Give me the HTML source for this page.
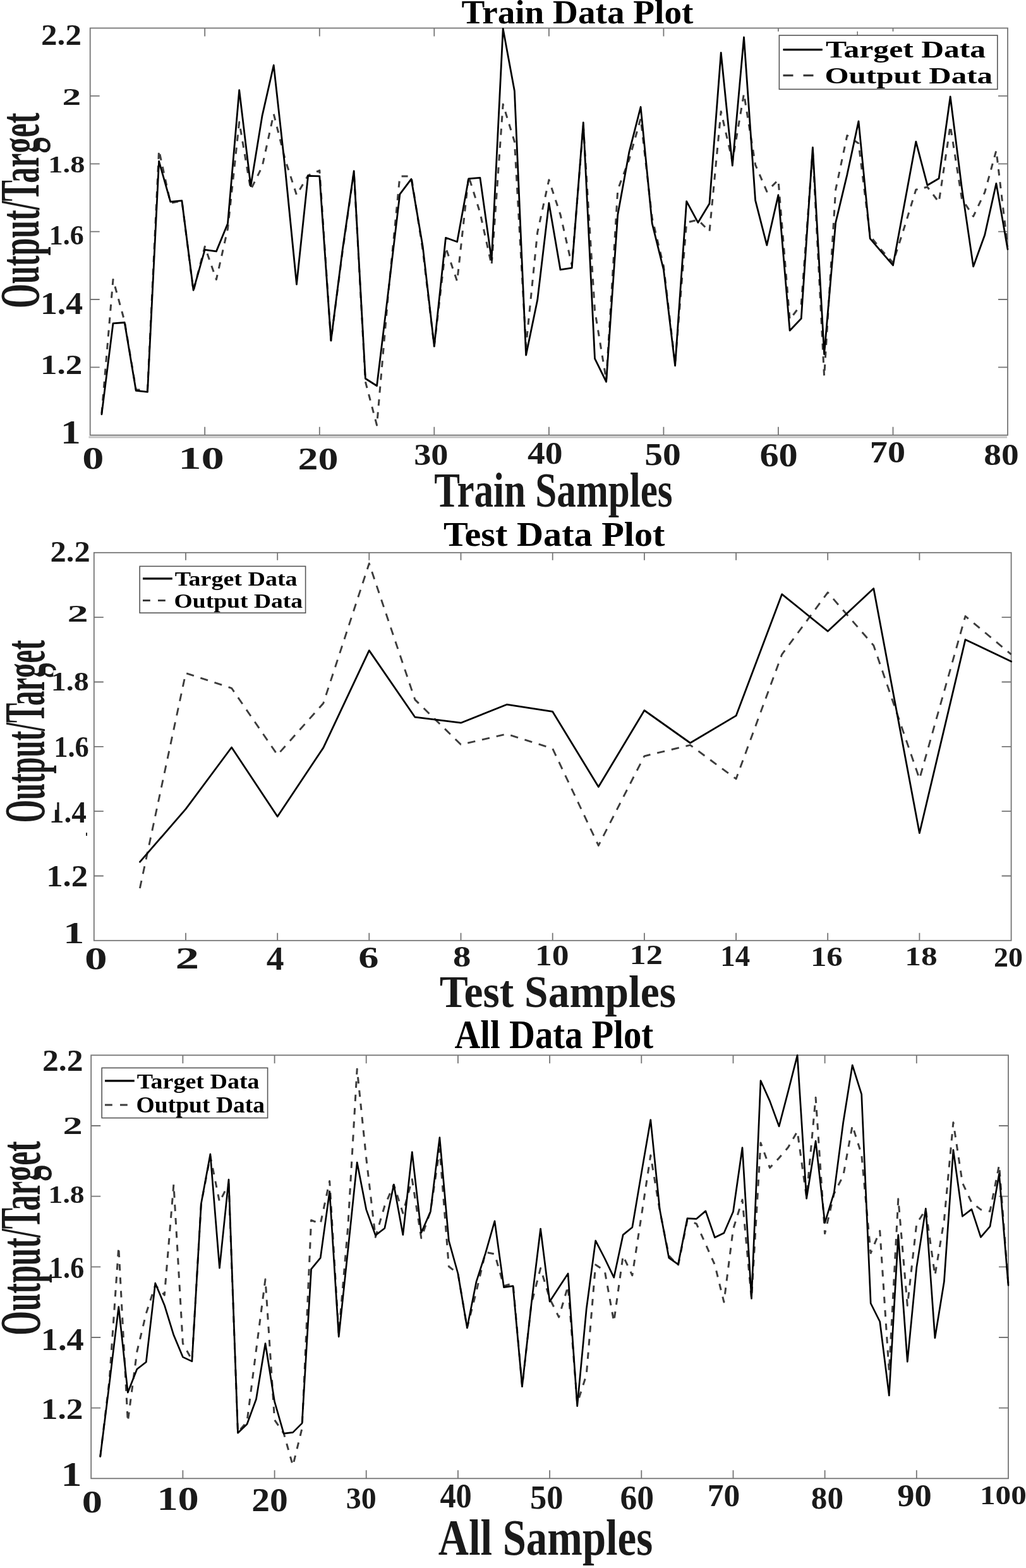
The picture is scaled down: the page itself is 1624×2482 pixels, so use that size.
<!DOCTYPE html><html><head><meta charset="utf-8"><title>Data Plots</title><style>html,body{margin:0;padding:0;background:#fff}body{width:1624px;height:2482px;overflow:hidden}</style></head><body><svg width="1624" height="2482" viewBox="0 0 1624 2482" style="display:block">
<rect width="1624" height="2482" fill="#fff"/>
<path d="M140.5 692H1594" stroke="#c4c4c4" stroke-width="2.8"/>
<rect x="142.7" y="44.5" width="1452.30" height="644.30" fill="none" stroke="#757575" stroke-width="1.8"/><path d="M324.2 44.5v13M324.2 688.8v-13M505.8 44.5v13M505.8 688.8v-13M687.3 44.5v13M687.3 688.8v-13M868.9 44.5v13M868.9 688.8v-13M1050.4 44.5v13M1050.4 688.8v-13M1231.9 44.5v13M1231.9 688.8v-13M1413.5 44.5v13M1413.5 688.8v-13M142.7 581.4h15M1595 581.4h-15M142.7 474.0h15M1595 474.0h-15M142.7 366.7h15M1595 366.7h-15M142.7 259.3h15M1595 259.3h-15M142.7 151.9h15M1595 151.9h-15" stroke="#757575" stroke-width="1.8" fill="none"/>
<polyline points="160.9,654.5 179.0,442.4 197.2,508.6 215.3,617.0 233.5,617.0 251.6,237.8 269.8,321.4 287.9,317.7 306.1,460.7 324.2,390.3 342.4,442.4 360.5,362.2 378.7,193.3 396.9,300.3 415.0,263.7 433.2,180.4 451.3,252.4 469.5,308.7 487.6,277.7 505.8,269.8 523.9,539.0 542.1,398.8 560.2,272.1 578.4,604.3 596.5,673.0 614.7,463.5 632.9,279.1 651.0,279.1 669.2,396.0 687.3,548.0 705.5,391.7 723.6,445.2 741.8,279.1 759.9,336.8 778.1,419.9 796.2,165.1 814.4,224.2 832.6,548.0 850.7,367.8 868.9,284.8 887.0,339.7 905.2,419.9 923.3,198.9 941.5,491.7 959.6,601.5 977.8,300.3 995.9,252.4 1014.1,187.6 1032.2,345.3 1050.4,421.3 1068.6,576.1 1086.7,352.3 1104.9,348.1 1123.0,366.4 1141.2,176.4 1159.3,255.2 1177.5,148.4 1195.6,260.8 1213.8,303.1 1231.9,284.8 1250.1,505.8 1268.2,481.8 1286.4,238.3 1304.6,595.8 1322.7,300.3 1340.9,214.4 1359.0,227.1 1377.2,373.4 1395.3,396.0 1413.5,415.7 1431.6,359.4 1449.8,300.3 1467.9,296.0 1486.1,320.0 1504.2,198.9 1522.4,314.3 1540.6,342.5 1558.7,304.5 1576.9,238.3 1595.0,390.3" fill="none" stroke="#3c3c3c" stroke-width="3.0" stroke-dasharray="10 10.4" stroke-linejoin="round"/><polyline points="160.9,655.9 179.0,511.9 197.2,510.5 215.3,618.4 233.5,620.3 251.6,255.2 269.8,319.4 287.9,317.7 306.1,459.3 324.2,395.4 342.4,397.9 360.5,353.7 378.7,142.6 396.9,294.6 415.0,183.4 433.2,103.2 451.3,266.5 469.5,450.0 487.6,278.3 505.8,278.9 523.9,539.0 542.1,396.0 560.2,270.7 578.4,599.2 596.5,610.8 614.7,460.7 632.9,307.3 651.0,283.4 669.2,390.3 687.3,548.0 705.5,376.3 723.6,382.7 741.8,282.8 759.9,281.4 778.1,411.4 796.2,45.5 814.4,144.0 832.6,562.1 850.7,474.8 868.9,321.4 887.0,426.9 905.2,424.1 923.3,193.8 941.5,567.7 959.6,604.3 977.8,339.7 995.9,240.6 1014.1,169.3 1032.2,353.7 1050.4,426.9 1068.6,578.9 1086.7,318.6 1104.9,352.3 1123.0,322.2 1141.2,83.5 1159.3,262.2 1177.5,59.0 1195.6,317.1 1213.8,388.1 1231.9,308.7 1250.1,523.2 1268.2,504.3 1286.4,233.3 1304.6,560.7 1322.7,352.3 1340.9,276.3 1359.0,191.9 1377.2,377.7 1395.3,398.8 1413.5,419.9 1431.6,322.8 1449.8,224.2 1467.9,293.2 1486.1,282.5 1504.2,153.0 1522.4,297.4 1540.6,421.9 1558.7,372.0 1576.9,290.4 1595.0,394.6" fill="none" stroke="#000" stroke-width="2.8" stroke-linejoin="round" stroke-linecap="round"/>
<rect x="148.8" y="874.8" width="1451.80" height="614.00" fill="none" stroke="#757575" stroke-width="1.8"/><path d="M294.0 874.8v12M294.0 1488.8v-12M439.2 874.8v12M439.2 1488.8v-12M584.3 874.8v12M584.3 1488.8v-12M729.5 874.8v12M729.5 1488.8v-12M874.7 874.8v12M874.7 1488.8v-12M1019.9 874.8v12M1019.9 1488.8v-12M1165.1 874.8v12M1165.1 1488.8v-12M1310.2 874.8v12M1310.2 1488.8v-12M1455.4 874.8v12M1455.4 1488.8v-12M148.8 1386.5h15M1600.6 1386.5h-15M148.8 1284.1h15M1600.6 1284.1h-15M148.8 1181.8h15M1600.6 1181.8h-15M148.8 1079.5h15M1600.6 1079.5h-15M148.8 977.1h15M1600.6 977.1h-15" stroke="#757575" stroke-width="1.8" fill="none"/>
<polyline points="221.4,1406.0 294.0,1065.4 366.6,1089.3 439.2,1194.9 511.8,1113.2 584.3,892.0 656.9,1107.6 729.5,1178.5 802.1,1161.9 874.7,1185.0 947.3,1338.4 1019.9,1196.8 1092.5,1179.4 1165.1,1232.9 1237.7,1035.8 1310.2,937.8 1382.8,1021.7 1455.4,1232.9 1528.0,975.3 1600.6,1035.8" fill="none" stroke="#3c3c3c" stroke-width="2.9" stroke-dasharray="12.3 11" stroke-linejoin="round"/><polyline points="221.4,1364.3 294.0,1280.7 366.6,1183.0 439.2,1292.5 511.8,1183.6 584.3,1029.6 656.9,1135.2 729.5,1144.2 802.1,1115.2 874.7,1126.4 947.3,1245.5 1019.9,1124.5 1092.5,1176.0 1165.1,1132.9 1237.7,940.6 1310.2,999.2 1382.8,931.6 1455.4,1318.7 1528.0,1012.4 1600.6,1047.1" fill="none" stroke="#000" stroke-width="2.8" stroke-linejoin="round" stroke-linecap="round"/>
<rect x="144.2" y="1670.3" width="1451.80" height="670.00" fill="none" stroke="#757575" stroke-width="1.8"/><path d="M289.4 1670.3v13M289.4 2340.3v-13M434.6 1670.3v13M434.6 2340.3v-13M579.7 1670.3v13M579.7 2340.3v-13M724.9 1670.3v13M724.9 2340.3v-13M870.1 1670.3v13M870.1 2340.3v-13M1015.3 1670.3v13M1015.3 2340.3v-13M1160.5 1670.3v13M1160.5 2340.3v-13M1305.6 1670.3v13M1305.6 2340.3v-13M1450.8 1670.3v13M1450.8 2340.3v-13M144.2 2228.6h15M1596 2228.6h-15M144.2 2117.0h15M1596 2117.0h-15M144.2 2005.3h15M1596 2005.3h-15M144.2 1893.6h15M1596 1893.6h-15M144.2 1782.0h15M1596 1782.0h-15" stroke="#757575" stroke-width="1.8" fill="none"/>
<polyline points="158.7,2305.6 173.2,2184.4 187.8,1973.8 202.3,2250.3 216.8,2139.7 231.3,2079.1 245.8,2034.3 260.3,2050.1 274.9,1875.0 289.4,2126.5 303.9,2152.8 318.4,1905.3 332.9,1830.2 347.5,1902.7 362.0,1873.7 376.5,2267.4 391.0,2250.3 405.5,2137.0 420.0,2025.1 434.6,2247.6 449.1,2268.7 463.6,2320.0 478.1,2260.8 492.6,1931.5 507.2,1937.1 521.7,1869.6 536.2,2111.7 550.7,1942.8 565.2,1692.2 579.7,1833.0 594.3,1958.3 608.8,1909.0 623.3,1875.2 637.8,1920.3 652.3,1866.8 666.8,1959.7 681.4,1917.4 695.9,1818.9 710.4,2004.7 724.9,2016.0 739.4,2101.8 754.0,2044.1 768.5,1982.2 783.0,1985.0 797.5,2035.7 812.0,2031.4 826.5,2194.7 841.1,2063.8 855.6,2007.5 870.1,2055.4 884.6,2084.9 899.1,2035.7 913.7,2221.5 928.2,2176.4 942.7,2001.9 957.2,2011.7 971.7,2092.0 986.2,1987.8 1000.8,2018.8 1015.3,1924.5 1029.8,1828.8 1044.3,1916.0 1058.8,1987.8 1073.4,2003.3 1087.9,1931.5 1102.4,1937.1 1116.9,1969.5 1131.4,2001.9 1145.9,2061.0 1160.5,1945.6 1175.0,1899.1 1189.5,2055.4 1204.0,1809.1 1218.5,1848.5 1233.1,1833.0 1247.6,1816.1 1262.1,1790.8 1276.6,1894.9 1291.1,1737.3 1305.6,1952.6 1320.2,1889.3 1334.7,1861.1 1349.2,1781.7 1363.7,1827.4 1378.2,1983.6 1392.7,1948.4 1407.3,2170.8 1421.8,1897.7 1436.3,2066.6 1450.8,1937.1 1465.3,1914.6 1479.9,2018.8 1494.4,1931.5 1508.9,1776.7 1523.4,1872.4 1537.9,1903.4 1552.4,1914.6 1567.0,1917.4 1581.5,1844.2 1596.0,2032.9" fill="none" stroke="#3c3c3c" stroke-width="3.0" stroke-dasharray="10.3 10.9" stroke-linejoin="round"/><polyline points="158.7,2305.6 173.2,2189.7 187.8,2068.6 202.3,2204.2 216.8,2167.3 231.3,2156.0 245.8,2031.2 260.3,2065.9 274.9,2113.3 289.4,2148.1 303.9,2154.9 318.4,1905.3 332.9,1826.8 347.5,2007.2 362.0,1867.1 376.5,2268.2 391.0,2254.2 405.5,2214.7 420.0,2126.5 434.6,2218.7 449.1,2269.2 463.6,2267.4 478.1,2252.9 492.6,2008.9 507.2,1991.2 521.7,1885.9 536.2,2115.9 550.7,1979.4 565.2,1840.0 579.7,1914.6 594.3,1955.4 608.8,1944.2 623.3,1875.2 637.8,1954.6 652.3,1823.7 666.8,1951.2 681.4,1918.0 695.9,1800.6 710.4,1963.9 724.9,2016.0 739.4,2101.8 754.0,2028.6 768.5,1983.6 783.0,1932.9 797.5,2037.6 812.0,2035.7 826.5,2194.7 841.1,2063.8 855.6,1945.0 870.1,2060.2 884.6,2037.9 899.1,2016.0 913.7,2225.7 928.2,2072.3 942.7,1963.9 957.2,1992.0 971.7,2022.2 986.2,1954.6 1000.8,1942.8 1015.3,1856.9 1029.8,1772.5 1044.3,1914.6 1058.8,1991.2 1073.4,2001.3 1087.9,1928.7 1102.4,1929.3 1116.9,1916.9 1131.4,1958.8 1145.9,1951.8 1160.5,1918.0 1175.0,1816.7 1189.5,2055.4 1204.0,1710.5 1218.5,1742.9 1233.1,1782.9 1247.6,1727.4 1262.1,1670.3 1276.6,1897.2 1291.1,1806.2 1305.6,1935.7 1320.2,1887.9 1334.7,1776.7 1349.2,1686.0 1363.7,1732.2 1378.2,2063.0 1392.7,2092.0 1407.3,2208.8 1421.8,1954.9 1436.3,2155.3 1450.8,2006.1 1465.3,1913.2 1479.9,2117.9 1494.4,2028.6 1508.9,1820.3 1523.4,1925.3 1537.9,1914.1 1552.4,1958.3 1567.0,1941.4 1581.5,1858.3 1596.0,2034.3" fill="none" stroke="#000" stroke-width="2.7" stroke-linejoin="round" stroke-linecap="round"/>
<rect x="1228" y="49.8" width="358" height="96" fill="#fff"/>
<path d="M1357.2 49.8V56" stroke="#757575" stroke-width="1.6"/>
<rect x="1233.4" y="55.9" width="345.4" height="85.4" fill="#fff" stroke="#555" stroke-width="1.6"/>
<path d="M1239.5 78.6H1301.8" stroke="#000" stroke-width="3.4"/>
<path d="M1239.5 119.3h16m16 0h16" stroke="#3c3c3c" stroke-width="3.2"/>
<rect x="221.2" y="896.4" width="262.4" height="73.8" fill="#fff" stroke="#555" stroke-width="1.6"/>
<path d="M226 915.9H272.8" stroke="#000" stroke-width="3.3"/>
<path d="M226 950.5h11.8m12.2 0h11.8" stroke="#3c3c3c" stroke-width="3.1"/>
<rect x="161.2" y="1690.4" width="262.4" height="79.2" fill="#fff" stroke="#555" stroke-width="1.6"/>
<path d="M166 1710.9H212.8" stroke="#000" stroke-width="3.3"/>
<path d="M166 1749h11.8m12.2 0h11.8" stroke="#3c3c3c" stroke-width="3.1"/>
<text transform="matrix(0 -0.4999 0.8954 0 61.20 487.90)" font-family="'Liberation Serif', serif" font-weight="bold" font-size="100" fill="#1a1a1a">Output/Target</text>
<text transform="matrix(0 -0.4675 0.9123 0 69.80 1302.37)" font-family="'Liberation Serif', serif" font-weight="bold" font-size="100" fill="#1a1a1a">Output/Target</text>
<text transform="matrix(0 -0.4971 0.9092 0 62.50 2113.69)" font-family="'Liberation Serif', serif" font-weight="bold" font-size="100" fill="#1a1a1a">Output/Target</text>
<rect x="84.3" y="1061" width="57" height="37" fill="#fff"/>
<text transform="matrix(0.5521 0 0 0.5185 730.45 36.90)" font-family="'Liberation Serif', serif" font-weight="bold" font-size="100" fill="#000">Train Data Plot</text>
<text transform="matrix(0.5111 0 0 0.4582 65.06 70.94)" font-family="'Liberation Serif', serif" font-weight="bold" font-size="100" fill="#1a1a1a">2.2</text>
<text transform="matrix(0.5952 0 0 0.3731 98.62 165.63)" font-family="'Liberation Serif', serif" font-weight="bold" font-size="100" fill="#1a1a1a">2</text>
<text transform="matrix(0.4649 0 0 0.3897 76.28 272.72)" font-family="'Liberation Serif', serif" font-weight="bold" font-size="100" fill="#1a1a1a">1.8</text>
<text transform="matrix(0.4400 0 0 0.4500 77.68 387.30)" font-family="'Liberation Serif', serif" font-weight="bold" font-size="100" fill="#1a1a1a">1.6</text>
<text transform="matrix(0.5379 0 0 0.5090 63.90 497.09)" font-family="'Liberation Serif', serif" font-weight="bold" font-size="100" fill="#1a1a1a">1.4</text>
<text transform="matrix(0.5310 0 0 0.4388 63.95 592.46)" font-family="'Liberation Serif', serif" font-weight="bold" font-size="100" fill="#1a1a1a">1.2</text>
<text transform="matrix(0.6351 0 0 0.5227 95.92 701.50)" font-family="'Liberation Serif', serif" font-weight="bold" font-size="100" fill="#1a1a1a">1</text>
<text transform="matrix(0.6841 0 0 0.4971 130.35 741.81)" font-family="'Liberation Serif', serif" font-weight="bold" font-size="100" fill="#1a1a1a">0</text>
<text transform="matrix(0.7281 0 0 0.4971 282.18 741.81)" font-family="'Liberation Serif', serif" font-weight="bold" font-size="100" fill="#1a1a1a">10</text>
<text transform="matrix(0.6398 0 0 0.5000 471.44 743.00)" font-family="'Liberation Serif', serif" font-weight="bold" font-size="100" fill="#1a1a1a">20</text>
<text transform="matrix(0.5436 0 0 0.4824 655.17 735.84)" font-family="'Liberation Serif', serif" font-weight="bold" font-size="100" fill="#1a1a1a">30</text>
<text transform="matrix(0.5562 0 0 0.5147 834.94 733.97)" font-family="'Liberation Serif', serif" font-weight="bold" font-size="100" fill="#1a1a1a">40</text>
<text transform="matrix(0.5753 0 0 0.5015 1020.20 735.80)" font-family="'Liberation Serif', serif" font-weight="bold" font-size="100" fill="#1a1a1a">50</text>
<text transform="matrix(0.6043 0 0 0.5353 1202.39 738.03)" font-family="'Liberation Serif', serif" font-weight="bold" font-size="100" fill="#1a1a1a">60</text>
<text transform="matrix(0.5620 0 0 0.4912 1376.79 732.42)" font-family="'Liberation Serif', serif" font-weight="bold" font-size="100" fill="#1a1a1a">70</text>
<text transform="matrix(0.5543 0 0 0.4853 1557.24 736.43)" font-family="'Liberation Serif', serif" font-weight="bold" font-size="100" fill="#1a1a1a">80</text>
<text transform="matrix(0.6113 0 0 0.7723 687.19 802.40)" font-family="'Liberation Serif', serif" font-weight="bold" font-size="100" fill="#1a1a1a">Train Samples</text>
<text transform="matrix(0.4967 0 0 0.3692 1306.90 91.30)" font-family="'Liberation Serif', serif" font-weight="bold" font-size="100" fill="#000">Target Data</text>
<text transform="matrix(0.4905 0 0 0.3515 1305.44 132.30)" font-family="'Liberation Serif', serif" font-weight="bold" font-size="100" fill="#000">Output Data</text>
<text transform="matrix(0.5825 0 0 0.5400 702.02 863.50)" font-family="'Liberation Serif', serif" font-weight="bold" font-size="100" fill="#000">Test Data Plot</text>
<text transform="matrix(0.5060 0 0 0.4627 79.58 888.94)" font-family="'Liberation Serif', serif" font-weight="bold" font-size="100" fill="#1a1a1a">2.2</text>
<text transform="matrix(0.6643 0 0 0.3866 106.54 983.91)" font-family="'Liberation Serif', serif" font-weight="bold" font-size="100" fill="#1a1a1a">2</text>
<text transform="matrix(0.4816 0 0 0.4132 80.65 1092.67)" font-family="'Liberation Serif', serif" font-weight="bold" font-size="100" fill="#1a1a1a">1.8</text>
<text transform="matrix(0.4452 0 0 0.4559 85.14 1198.19)" font-family="'Liberation Serif', serif" font-weight="bold" font-size="100" fill="#1a1a1a">1.6</text>
<text transform="matrix(0.4733 0 0 0.4925 77.81 1301.51)" font-family="'Liberation Serif', serif" font-weight="bold" font-size="100" fill="#1a1a1a">1.4</text>
<text transform="matrix(0.5283 0 0 0.4836 73.17 1402.72)" font-family="'Liberation Serif', serif" font-weight="bold" font-size="100" fill="#1a1a1a">1.2</text>
<text transform="matrix(0.6622 0 0 0.4909 100.30 1493.30)" font-family="'Liberation Serif', serif" font-weight="bold" font-size="100" fill="#1a1a1a">1</text>
<text transform="matrix(0.7136 0 0 0.5015 133.96 1534.10)" font-family="'Liberation Serif', serif" font-weight="bold" font-size="100" fill="#1a1a1a">0</text>
<text transform="matrix(0.7548 0 0 0.4836 277.38 1532.92)" font-family="'Liberation Serif', serif" font-weight="bold" font-size="100" fill="#1a1a1a">2</text>
<text transform="matrix(0.5562 0 0 0.5318 421.74 1534.57)" font-family="'Liberation Serif', serif" font-weight="bold" font-size="100" fill="#1a1a1a">4</text>
<text transform="matrix(0.6444 0 0 0.4912 567.37 1532.42)" font-family="'Liberation Serif', serif" font-weight="bold" font-size="100" fill="#1a1a1a">6</text>
<text transform="matrix(0.5682 0 0 0.4676 716.90 1529.86)" font-family="'Liberation Serif', serif" font-weight="bold" font-size="100" fill="#1a1a1a">8</text>
<text transform="matrix(0.5360 0 0 0.4662 846.91 1528.47)" font-family="'Liberation Serif', serif" font-weight="bold" font-size="100" fill="#1a1a1a">10</text>
<text transform="matrix(0.5239 0 0 0.4343 996.61 1526.37)" font-family="'Liberation Serif', serif" font-weight="bold" font-size="100" fill="#1a1a1a">12</text>
<text transform="matrix(0.4692 0 0 0.4627 1140.35 1528.94)" font-family="'Liberation Serif', serif" font-weight="bold" font-size="100" fill="#1a1a1a">14</text>
<text transform="matrix(0.5089 0 0 0.4324 1282.93 1528.54)" font-family="'Liberation Serif', serif" font-weight="bold" font-size="100" fill="#1a1a1a">16</text>
<text transform="matrix(0.5146 0 0 0.4176 1432.18 1527.56)" font-family="'Liberation Serif', serif" font-weight="bold" font-size="100" fill="#1a1a1a">18</text>
<text transform="matrix(0.4602 0 0 0.4382 1573.06 1529.92)" font-family="'Liberation Serif', serif" font-weight="bold" font-size="100" fill="#1a1a1a">20</text>
<text transform="matrix(0.6750 0 0 0.7138 695.72 1593.50)" font-family="'Liberation Serif', serif" font-weight="bold" font-size="100" fill="#1a1a1a">Test Samples</text>
<text transform="matrix(0.3802 0 0 0.3262 276.72 927.40)" font-family="'Liberation Serif', serif" font-weight="bold" font-size="100" fill="#000">Target Data</text>
<text transform="matrix(0.3758 0 0 0.3212 275.60 962.10)" font-family="'Liberation Serif', serif" font-weight="bold" font-size="100" fill="#000">Output Data</text>
<text transform="matrix(0.5667 0 0 0.6273 719.40 1659.40)" font-family="'Liberation Serif', serif" font-weight="bold" font-size="100" fill="#000">All Data Plot</text>
<text transform="matrix(0.5171 0 0 0.4821 66.93 1694.52)" font-family="'Liberation Serif', serif" font-weight="bold" font-size="100" fill="#1a1a1a">2.2</text>
<text transform="matrix(0.6238 0 0 0.4000 99.40 1794.60)" font-family="'Liberation Serif', serif" font-weight="bold" font-size="100" fill="#1a1a1a">2</text>
<text transform="matrix(0.4570 0 0 0.4015 76.54 1904.00)" font-family="'Liberation Serif', serif" font-weight="bold" font-size="100" fill="#1a1a1a">1.8</text>
<text transform="matrix(0.4409 0 0 0.4765 78.07 2023.45)" font-family="'Liberation Serif', serif" font-weight="bold" font-size="100" fill="#1a1a1a">1.6</text>
<text transform="matrix(0.5457 0 0 0.5030 64.63 2136.50)" font-family="'Liberation Serif', serif" font-weight="bold" font-size="100" fill="#1a1a1a">1.4</text>
<text transform="matrix(0.5354 0 0 0.4612 64.72 2246.34)" font-family="'Liberation Serif', serif" font-weight="bold" font-size="100" fill="#1a1a1a">1.2</text>
<text transform="matrix(0.6595 0 0 0.5409 96.42 2352.40)" font-family="'Liberation Serif', serif" font-weight="bold" font-size="100" fill="#1a1a1a">1</text>
<text transform="matrix(0.6455 0 0 0.5162 129.86 2394.17)" font-family="'Liberation Serif', serif" font-weight="bold" font-size="100" fill="#1a1a1a">0</text>
<text transform="matrix(0.6640 0 0 0.5250 248.39 2389.75)" font-family="'Liberation Serif', serif" font-weight="bold" font-size="100" fill="#1a1a1a">10</text>
<text transform="matrix(0.5753 0 0 0.5309 398.30 2392.44)" font-family="'Liberation Serif', serif" font-weight="bold" font-size="100" fill="#1a1a1a">20</text>
<text transform="matrix(0.4798 0 0 0.4912 547.86 2387.52)" font-family="'Liberation Serif', serif" font-weight="bold" font-size="100" fill="#1a1a1a">30</text>
<text transform="matrix(0.5042 0 0 0.5397 696.40 2386.42)" font-family="'Liberation Serif', serif" font-weight="bold" font-size="100" fill="#1a1a1a">40</text>
<text transform="matrix(0.5247 0 0 0.5309 839.10 2388.44)" font-family="'Liberation Serif', serif" font-weight="bold" font-size="100" fill="#1a1a1a">50</text>
<text transform="matrix(0.5372 0 0 0.5500 981.49 2389.10)" font-family="'Liberation Serif', serif" font-weight="bold" font-size="100" fill="#1a1a1a">60</text>
<text transform="matrix(0.5152 0 0 0.5059 1119.82 2384.19)" font-family="'Liberation Serif', serif" font-weight="bold" font-size="100" fill="#1a1a1a">70</text>
<text transform="matrix(0.5117 0 0 0.5162 1283.86 2388.17)" font-family="'Liberation Serif', serif" font-weight="bold" font-size="100" fill="#1a1a1a">80</text>
<text transform="matrix(0.5453 0 0 0.5162 1420.21 2384.17)" font-family="'Liberation Serif', serif" font-weight="bold" font-size="100" fill="#1a1a1a">90</text>
<text transform="matrix(0.4928 0 0 0.4265 1550.96 2380.95)" font-family="'Liberation Serif', serif" font-weight="bold" font-size="100" fill="#1a1a1a">100</text>
<text transform="matrix(0.6679 0 0 0.7955 693.70 2460.60)" font-family="'Liberation Serif', serif" font-weight="bold" font-size="100" fill="#1a1a1a">All Samples</text>
<text transform="matrix(0.3802 0 0 0.3415 216.72 1722.80)" font-family="'Liberation Serif', serif" font-weight="bold" font-size="100" fill="#000">Target Data</text>
<text transform="matrix(0.3758 0 0 0.3500 215.60 1761.30)" font-family="'Liberation Serif', serif" font-weight="bold" font-size="100" fill="#000">Output Data</text>
<rect x="80" y="1266" width="10.3" height="15.8" fill="#fff"/><rect x="136" y="1318" width="2" height="5" fill="#2a2a2a"/>
</svg></body></html>
